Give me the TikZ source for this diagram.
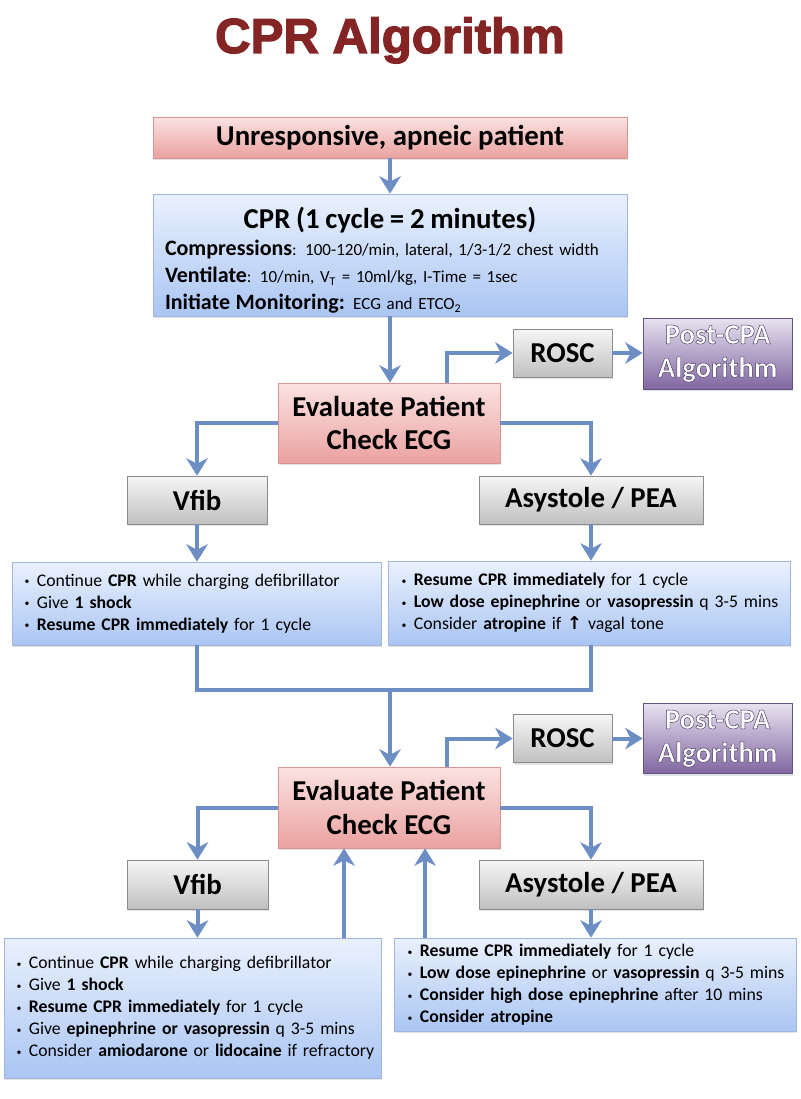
\documentclass[tikz,border=0pt]{standalone}
\usepackage{fontspec}
\setmainfont{Carlito}
\newfontfamily\titlefamily{Liberation Sans Bold}[FakeBold=2.5]
\newfontfamily\arrowfamily{DejaVu Sans}
\usepackage{tikz}
\usetikzlibrary{arrows.meta, shadows, calc}

\definecolor{titlered}{RGB}{132,36,36}
\definecolor{pinktop}{RGB}{250,226,225}
\definecolor{pinkbot}{RGB}{234,162,160}
\definecolor{pinkline}{RGB}{214,150,148}
\definecolor{bluetop}{RGB}{234,241,253}
\definecolor{bluebot}{RGB}{170,197,243}
\definecolor{blueline}{RGB}{160,182,222}
\definecolor{graytop}{RGB}{246,246,246}
\definecolor{graybot}{RGB}{192,192,192}
\definecolor{grayline}{RGB}{140,140,140}
\definecolor{purpletop}{RGB}{232,226,240}
\definecolor{purplebot}{RGB}{128,102,160}
\definecolor{purpleline}{RGB}{100,82,130}
\definecolor{arrowblue}{RGB}{108,142,196}

\newcommand\headfont{\bfseries\fontsize{21.6}{25}\selectfont}
\newcommand\labfont{\bfseries\fontsize{16.5}{20.25}\selectfont}
\newcommand\cprfont{\fontsize{12.75}{20.25}\selectfont}
\newcommand\listfont{\fontsize{13.3}{16.5}\selectfont}
\newcommand\itm[1]{\makebox[\linewidth][l]{\raisebox{0.15ex}{\scalebox{0.55}{\textbullet}}\hspace{5.5pt}#1}}
\newcommand\uparr{{\arrowfamily\bfseries ↑}}
% white letters with a dark rim
\newcommand\outl[1]{\special{pdf:literal direct 2 Tr 0.35 w 0.28 0.23 0.38 RG}#1\special{pdf:literal direct 0 Tr}}

\tikzset{
  conn/.style={line width=3pt, draw=arrowblue},
  arr/.style={conn, -{Stealth[length=13pt, width=16pt, inset=4pt]}},
  boxsize/.style 2 args={minimum width=#1*0.75pt, minimum height=#2*0.75pt},
  box/.style={draw, line width=0.5pt, inner sep=0pt,
    drop shadow={opacity=0.22, shadow xshift=1pt, shadow yshift=-1.5pt}},
  pinkbox/.style={box, draw=pinkline, top color=pinktop, bottom color=pinkbot,
    font=\headfont, align=center},
  graybox/.style={box, draw=grayline, top color=graytop, bottom color=graybot,
    font=\headfont, align=center},
  purplebox/.style={box, draw=purpleline, top color=purpletop, bottom color=purplebot,
    font=\headfont, text=white, align=center},
  bluebox/.style={box, draw=blueline, top color=bluetop, bottom color=bluebot,
    align=left},
  listbox/.style={bluebox, font=\listfont}
}

\begin{document}
\begin{tikzpicture}[x=0.75pt, y=-0.75pt]
\fill[white] (0,0) rectangle (800,1099);
\useasboundingbox (0,0) rectangle (800,1099);

% title
\node[anchor=base, text=titlered, font=\titlefamily\fontsize{36.9}{40}\selectfont] (title) at (390,53) {CPR Algorithm};

% first round
\node[pinkbox, boxsize={474}{41}] (unresp) at (390,137.5) {Unresponsive, apneic patient};
\node[bluebox, boxsize={474}{122}, text width=450*0.75pt, font=\cprfont] (cpr) at (390,255) {%
{\centering\headfont\rule{0pt}{24pt}CPR (1 cycle = 2 minutes)\par}
{\labfont Compressions}: 100-120/min, lateral, 1/3-1/2 chest width\\
{\labfont Ventilate}: 10/min, V\textsubscript{T} = 10ml/kg, I-Time = 1sec\\
{\labfont Initiate Monitoring:} ECG and ETCO\textsubscript{2}};
\node[pinkbox, boxsize={222}{80}] (eval1) at (389,423) {Evaluate Patient\\Check ECG};
\node[graybox, boxsize={99}{48}] (rosc1) at (562.5,353) {ROSC};
\node[purplebox, boxsize={149}{71}] (post1) at (717.5,353.5) {\outl{Post-CPA}\\\outl{Algorithm}};
\node[graybox, boxsize={140}{48}] (vfib1) at (197,500) {Vfib};
\node[graybox, boxsize={224}{48}] (asys1) at (591,500) {Asystole / PEA};
\node[listbox, boxsize={369}{83}, text width=343.6*0.75pt] (vlist1) at (196.5,603.5) {%
\itm{Continue \textbf{CPR} while charging defibrillator}\\
\itm{Give \textbf{1 shock}}\\
\itm{\textbf{Resume CPR immediately} for 1 cycle}};
\node[listbox, boxsize={402}{84}, text width=374.6*0.75pt] (alist1) at (589,603) {%
\itm{\textbf{Resume CPR immediately} for 1 cycle}\\
\itm{\textbf{Low dose epinephrine} or \textbf{vasopressin} q 3-5 mins}\\
\itm{Consider \textbf{atropine} if \uparr\ vagal tone}};
\coordinate (join) at (390,690);

% second round
\node[pinkbox, boxsize={222}{81}] (eval2) at (389,807.5) {Evaluate Patient\\Check ECG};
\node[graybox, boxsize={99}{48}] (rosc2) at (562.5,738.5) {ROSC};
\node[purplebox, boxsize={149}{70}] (post2) at (717.5,738.5) {\outl{Post-CPA}\\\outl{Algorithm}};
\node[graybox, boxsize={141}{49}] (vfib2) at (197.5,884.5) {Vfib};
\node[graybox, boxsize={224}{49}] (asys2) at (591,884.5) {Asystole / PEA};
\node[listbox, boxsize={377}{140}, text width=351.6*0.75pt] (vlist2) at (192.5,1008) {%
\itm{Continue \textbf{CPR} while charging defibrillator}\\
\itm{Give \textbf{1 shock}}\\
\itm{\textbf{Resume CPR immediately} for 1 cycle}\\
\itm{Give \textbf{epinephrine or vasopressin} q 3-5 mins}\\
\itm{Consider \textbf{amiodarone} or \textbf{lidocaine} if refractory}};
\node[listbox, boxsize={402}{93}, text width=374.6*0.75pt] (alist2) at (595,984.5) {%
\itm{\textbf{Resume CPR immediately} for 1 cycle}\\
\itm{\textbf{Low dose epinephrine} or \textbf{vasopressin} q 3-5 mins}\\
\itm{\textbf{Consider high dose epinephrine} after 10 mins}\\
\itm{\textbf{Consider atropine}}};
\coordinate (up1) at ($(eval2.south)+(-45,0)$);
\coordinate (up2) at ($(eval2.south)+(36,0)$);

% connectors
\draw[arr] (unresp.south) -- (unresp.south |- cpr.north);
\draw[arr] (cpr.south) -- (cpr.south |- eval1.north);
\draw[arr] ($(eval1.north)+(58,0)$) |- (rosc1.west);
\draw[arr] (rosc1.east) -- (rosc1.east -| post1.west);
\draw[arr] (eval1.west) -| (vfib1.north);
\draw[arr] (eval1.east) -| (asys1.north);
\draw[arr] (vfib1.south) -- (vfib1.south |- vlist1.north);
\draw[arr] (asys1.south) -- (asys1.south |- alist1.north);
\draw[conn] (vfib1 |- vlist1.south) |- (join) -| (asys1 |- alist1.south);
\draw[arr] (join) -- (join |- eval2.north);
\draw[arr] ($(eval2.north)+(58,0)$) |- (rosc2.west);
\draw[arr] (rosc2.east) -- (rosc2.east -| post2.west);
\draw[arr] (eval2.west) -| (vfib2.north);
\draw[arr] (eval2.east) -| (asys2.north);
\draw[arr] (vfib2.south) -- (vfib2.south |- vlist2.north);
\draw[arr] (asys2.south) -- (asys2.south |- alist2.north);
\draw[arr] (vlist2.north -| up1) -- (up1);
\draw[arr] (alist2.north -| up2) -- (up2);
\end{tikzpicture}
\end{document}
